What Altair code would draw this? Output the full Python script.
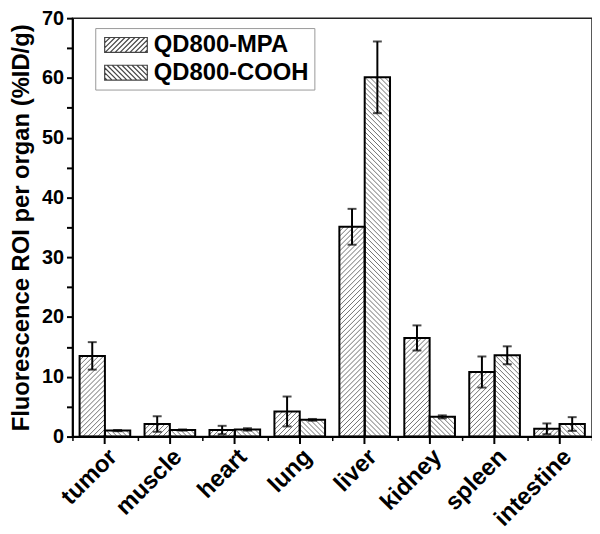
import altair as alt
import pandas as pd

# ---------------- data ----------------
organs = ["tumor", "muscle", "heart", "lung", "liver", "kidney", "spleen", "intestine"]
series_names = ["QD800-MPA", "QD800-COOH"]
mpa = [13.5, 2.1, 1.1, 4.2, 35.1, 16.5, 10.8, 1.3]
mpa_err = [2.3, 1.3, 0.7, 2.5, 3.0, 2.1, 2.6, 0.9]
cooh = [1.0, 1.1, 1.2, 2.8, 60.1, 3.3, 13.6, 2.1]
cooh_err = [0.1, 0.1, 0.2, 0.15, 6.0, 0.25, 1.5, 1.15]
y_ticks = list(range(0, 71, 5))

rows = []
for i, o in enumerate(organs):
    rows.append(dict(organ=o, series=series_names[0], oi=i, si=0, value=mpa[i], err=mpa_err[i]))
    rows.append(dict(organ=o, series=series_names[1], oi=i, si=1, value=cooh[i], err=cooh_err[i]))
df = pd.DataFrame(rows)

# ---------------- layout / style ----------------
W, H = 524, 422
YMAX = 70
PAD_IN, PAD_OUT = 0.22, 0.11
n = len(organs)
step = W / n
bar_frac = (1 - PAD_IN) / 2
bar_px = bar_frac * step
ppu = H / YMAX
gap = 5.0
HATCH = "#707070"
FONT = "Liberation Sans"


def legend_path(kind, wpx=43.0, hpx=15.0, sp=5.0):
    r = hpx / 2.0
    x1 = -1 + wpx / r
    parts = [f"M-1,-1H{x1:.3f}V1H-1Z"]
    k = 0
    while True:
        c = (-wpx if kind == 0 else 0) + sp * (k + 0.5)
        if (kind == 0 and c > hpx) or (kind == 1 and c > hpx + wpx):
            break
        if kind == 0:
            t0, t1 = max(0, -c), min(wpx, hpx - c)
        else:
            t0, t1 = max(0, c - hpx), min(wpx, c)
        if t1 > t0:
            ya = (t0 + c) if kind == 0 else (c - t0)
            yb = (t1 + c) if kind == 0 else (c - t1)
            parts.append(f"M{-1 + t0 / r:.3f},{1 - ya / r:.3f}L{-1 + t1 / r:.3f},{1 - yb / r:.3f}")
        k += 1
    return "".join(parts)


base = alt.Chart(df)

yscale = alt.Scale(domain=[0, YMAX], nice=False, zero=True)
yaxis = alt.Axis(orient="left", title="Fluorescence ROI per organ (%ID/g)",
                 values=y_ticks,
                 labelExpr="datum.value % 10 == 0 ? datum.label : ''",
                 labelFontSize=20, labelFontWeight="bold", labelColor="black",
                 tickSize=6, tickWidth=2, tickColor="black", domainColor="black",
                 domainWidth=2, labelPadding=3, titleFontSize=24,
                 titleFontWeight="bold", titleColor="black", titlePadding=8,
                 grid=False)
xscale = alt.Scale(domain=organs, paddingInner=PAD_IN, paddingOuter=PAD_OUT)
xoff = alt.XOffset("series:N", sort=series_names,
                   scale=alt.Scale(domain=series_names, paddingInner=0, paddingOuter=0))

# hatch lines inside the bars
hatch = (
    base.transform_calculate(
        Hp=f"datum.value*{ppu}",
        nl=f"ceil((datum.value*{ppu} + {bar_px})/{gap})",
    )
    .transform_calculate(idx="sequence(0, datum.nl)")
    .transform_flatten(["idx"])
    .transform_calculate(
        c=f"datum.si == 0 ? (-{bar_px} + {gap}*(datum.idx+0.5)) : ({gap}*(datum.idx+0.5))"
    )
    .transform_calculate(
        t0="datum.si == 0 ? max(0, -datum.c) : max(0, datum.c - datum.Hp)",
        t1=f"datum.si == 0 ? min({bar_px}, datum.Hp - datum.c) : min({bar_px}, datum.c)",
        x0=f"datum.oi + {PAD_OUT} + {bar_frac}*datum.si",
    )
    .transform_filter("datum.t1 > datum.t0")
    .transform_calculate(
        xa=f"datum.x0 + datum.t0/{step}",
        xb=f"datum.x0 + datum.t1/{step}",
        ya=f"(datum.si == 0 ? datum.t0 + datum.c : datum.c - datum.t0)/{ppu}",
        yb=f"(datum.si == 0 ? datum.t1 + datum.c : datum.c - datum.t1)/{ppu}",
    )
    .mark_rule(color=HATCH, strokeWidth=1)
    .encode(
        x=alt.X("xa:Q", scale=alt.Scale(domain=[0, n], nice=False, zero=False),
                axis=alt.Axis(orient="bottom", values=list(range(0, n + 1)), labels=False,
                              domain=False, grid=False, ticks=True, tickSize=4, tickWidth=1.5,
                              tickColor="black", title=None)),
        x2="xb:Q",
        y=alt.Y("ya:Q", scale=yscale, axis=yaxis),
        y2="yb:Q",
    )
)

bars = base.mark_bar(fillOpacity=0, stroke="black", strokeWidth=2).encode(
    x=alt.X("organ:N", sort=organs, scale=xscale,
            axis=alt.Axis(orient="bottom", title=None, labelAngle=-45, labelFontSize=24,
                          labelFontWeight="bold", labelColor="black", tickSize=7,
                          tickWidth=2, tickColor="black", domainColor="black",
                          domainWidth=2, labelPadding=1, grid=False)),
    xOffset=xoff,
    y=alt.Y("value:Q", scale=yscale, axis=yaxis),
)

errbase = base.transform_calculate(lo="datum.value - datum.err", hi="datum.value + datum.err")
xnoaxis = alt.X("organ:N", sort=organs, scale=xscale, axis=None)
err_rule = errbase.mark_rule(color="black", strokeWidth=2).encode(
    x=xnoaxis, xOffset=xoff, y=alt.Y("lo:Q", scale=yscale, axis=yaxis), y2="hi:Q")
cap_lo = errbase.mark_tick(color="black", thickness=2, size=9).encode(
    x=xnoaxis, xOffset=xoff, y=alt.Y("lo:Q", scale=yscale, axis=yaxis))
cap_hi = errbase.mark_tick(color="black", thickness=2, size=9).encode(
    x=xnoaxis, xOffset=xoff, y=alt.Y("hi:Q", scale=yscale, axis=yaxis))

legend_pts = base.mark_point(opacity=0).encode(
    x=xnoaxis, xOffset=xoff, y=alt.Y("value:Q", scale=yscale, axis=yaxis),
    shape=alt.Shape("series:N", sort=series_names,
                    scale=alt.Scale(domain=series_names,
                                    range=[legend_path(0), legend_path(1)]),
                    legend=alt.Legend(title=None, orient="none", legendX=23, legendY=10,
                                      labelFontSize=24, labelFontWeight="bold",
                                      labelColor="black", symbolSize=225,
                                      symbolStrokeColor="#444", symbolFillColor="white",
                                      symbolStrokeWidth=1.2, symbolOpacity=1,
                                      labelOffset=30, padding=5, rowPadding=4,
                                      strokeColor="#999")),
)

chart = (
    alt.layer(hatch, bars, err_rule, cap_lo, cap_hi, legend_pts)
    .resolve_scale(x="independent")
    .properties(width=W, height=H, autosize=alt.AutoSizeParams(type="none"),
                padding={"left": 65, "top": 8, "right": 0, "bottom": 96})
    .configure(font=FONT)
    .configure_view(stroke="#222", strokeWidth=1.5)
    .configure_axis(grid=False)
)

chart.save("out.html", embed_options={"renderer": "svg", "actions": False})
